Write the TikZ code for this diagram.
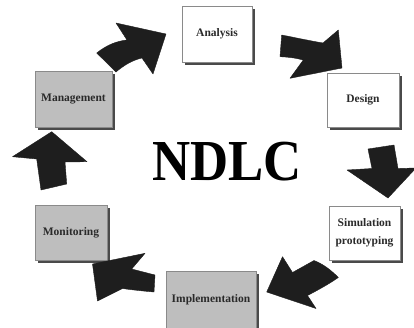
\documentclass[tikz,border=0pt]{standalone}
\usepackage{fontspec}
\setmainfont{Liberation Serif}
\usetikzlibrary{shadows}
\definecolor{arrowfill}{HTML}{1E1E1E}
\definecolor{boxgray}{HTML}{BEBEBE}
\definecolor{shadowgray}{HTML}{4A4A4A}
\definecolor{edgegray}{HTML}{8A8A8A}
\definecolor{textgray}{HTML}{2A2A2A}
\tikzset{
  stagebox/.style={draw=edgegray, line width=0.6pt, fill=white, inner sep=1pt,
    font=\fontsize{11.5}{18}\selectfont\bfseries, text=textgray, align=center,
    drop shadow={shadow xshift=3pt, shadow yshift=-3pt, opacity=1, fill=shadowgray}},
  graybox/.style={stagebox, fill=boxgray},
  blockarrow/.style={fill=arrowfill, draw=arrowfill, line width=0.4pt, line join=round}
}
\begin{document}
\begin{tikzpicture}[x=1pt, y=-1pt]
\useasboundingbox (0,0) rectangle (414,327);
\fill[white] (0,0) rectangle (414,327);

% boxes
\node[stagebox, minimum width=70pt, minimum height=56pt] (analysis) at (217,34) {Analysis};
\node[stagebox, minimum width=72pt, minimum height=54pt] (design) at (363,100) {Design};
\node[graybox, minimum width=77pt, minimum height=56pt] (management) at (73.5,99) {Management};
\node[graybox, minimum width=72pt, minimum height=55pt] (monitoring) at (71,232.5) {Monitoring};
\node[stagebox, minimum width=71pt, minimum height=54pt] (simulation) at (364.5,233) {Simulation\\prototyping};
\node[graybox, minimum width=90pt, minimum height=58pt] (implementation) at (211,300) {Implementation};

% title
\node[font=\fontsize{58}{58}\selectfont\bfseries, xscale=0.91] (ndlc) at (227,162) {NDLC};

% block arrows
% management -> analysis
\draw[blockarrow] (96.7,53) .. controls (108,44) and (118,41) .. (127,40)
  -- (116,23) -- (166,34) -- (153,74) -- (142,58)
  .. controls (133,60) and (124,65) .. (116,72) -- cycle;
% analysis -> design
\draw[blockarrow] (281.7,35) .. controls (297,38) and (311,41) .. (323,43)
  -- (338.3,30) -- (342,68) -- (290,78.3) -- (303.3,60)
  .. controls (296,58) and (288,57) .. (280,56.7) -- cycle;
% design -> simulation
\draw[blockarrow] (368,149) -- (394,145) -- (398,168.5) -- (416,168)
  -- (388,198) -- (347,170) -- (372,168.5) -- cycle;
% simulation -> implementation
\draw[blockarrow] (338.3,277.5) .. controls (331,270) and (323,264) .. (314,260.5)
  -- (292.5,272.5) -- (282.5,256.7) -- (266.7,292) -- (316,308.5) -- (307.5,295.5)
  .. controls (318,290) and (329,284) .. cycle;
% implementation -> monitoring
\draw[blockarrow] (155,275) -- (131.7,269) -- (145,253.3) -- (92.5,264)
  -- (97.5,301) -- (122.5,288.5) .. controls (133,290) and (143,291) .. (154,292) -- cycle;
% monitoring -> management
\draw[blockarrow] (41,190) -- (66.7,184) -- (65,162) -- (87,161.7)
  -- (51.7,131.7) -- (12.5,156.7) -- (36.7,159) -- cycle;
\end{tikzpicture}
\end{document}
